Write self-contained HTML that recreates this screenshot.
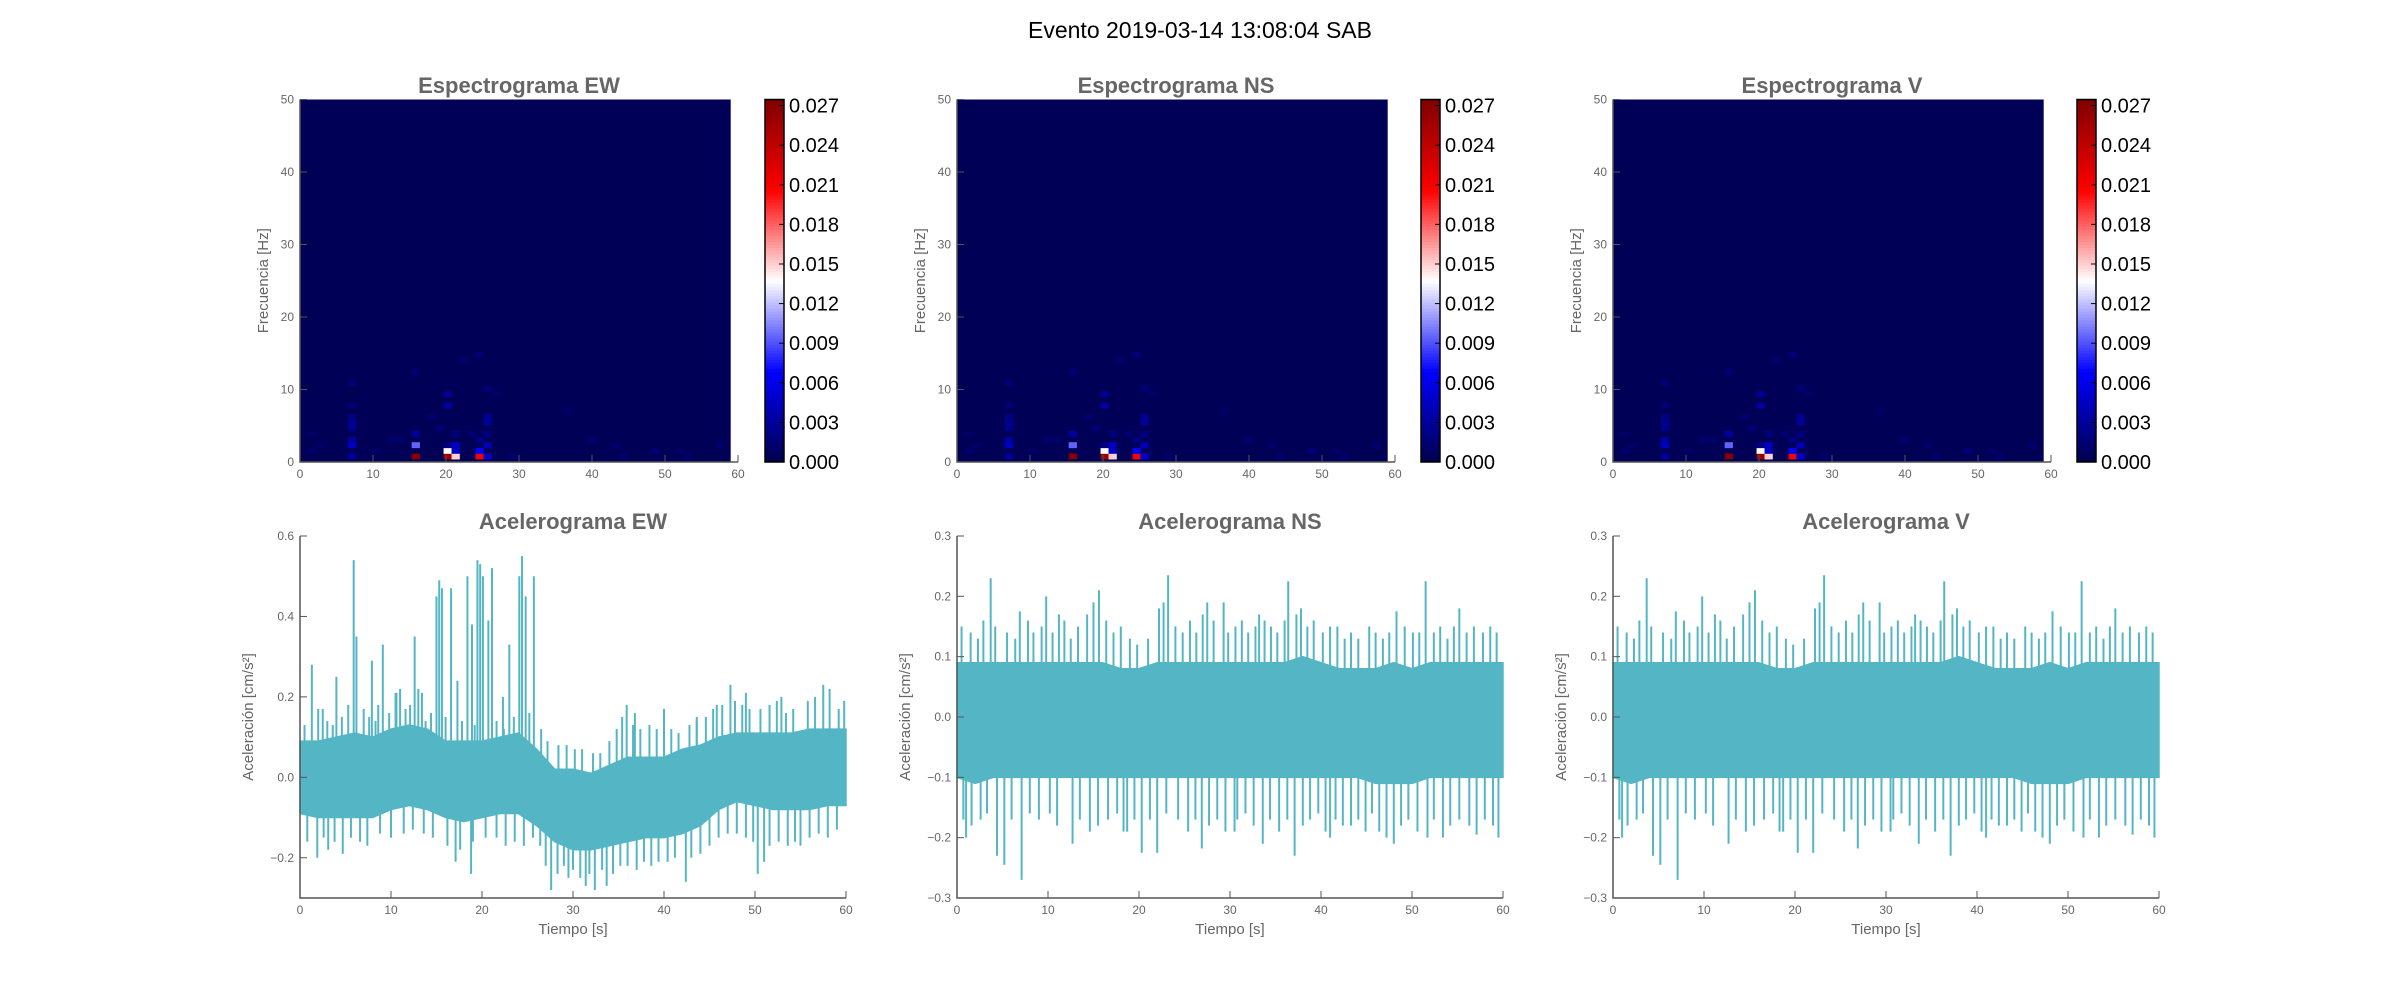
<!DOCTYPE html>
<html><head><meta charset="utf-8"><style>
html,body{margin:0;padding:0;background:#fff;}
svg{display:block;font-family:"Liberation Sans","DejaVu Sans",sans-serif;}
</style></head><body>
<svg id="fig" width="2400" height="1000" viewBox="0 0 2400 1000" xmlns="http://www.w3.org/2000/svg">
<rect width="2400" height="1000" fill="#fff"/>
<text x="1200" y="38" text-anchor="middle" font-size="23" fill="#000">Evento 2019-03-14 13:08:04 SAB</text>
</svg>
<script>
// ---- spectrogram data (shared pattern, bin indices) ----
const specDt = 1.0926;
const specDf = 0.78125;
const specNT = 54;
const specNF = 64;
const specBase = 0.0004;
const specCol = [14,14,14,14, 18,18,18,18,18, 19,19,19,19, 22,22,22,22, 23,23,23,23,23,23, 6,6,6,6,6,6,6,6, 1,1,12,17,21,24,36,40,44,48,52,2,9,11,16,20,26,33,39,47];
const specRow = [1,3,5,16, 1,2,3,10,12, 1,2,3,5, 1,2,4,19, 1,3,7,8,5,13, 1,3,4,6,7,8,10,14, 2,5,4,6,5,12,4,1,2,1,3,3,2,4,8,18,1,9,3,2];
const specVal = [0.027,0.0095,0.003,0.0015, 0.026,0.0137,0.002,0.003,0.0025, 0.0150,0.0045,0.0045,0.002, 0.021,0.0065,0.002,0.0015, 0.005,0.004,0.003,0.0025,0.002,0.0015, 0.003,0.0045,0.003,0.0025,0.0025,0.002,0.0015,0.0015, 0.0012,0.001,0.0012,0.0015,0.0015,0.001,0.001,0.0012,0.0015,0.0012,0.0012,0.001,0.001,0.0012,0.0012,0.0010,0.0012,0.001,0.001,0.001];
const cbTicks = [0.000,0.003,0.006,0.009,0.012,0.015,0.018,0.021,0.024,0.027];
const specVmax = 0.02746;
const specXTicks = [0,10,20,30,40,50,60];
const specYTicks = [0,10,20,30,40,50];

// ---- accelerogram data ----
const accT = [0,2,4,6,8,10,12,14,16,18,20,22,24,26,28,30,32,34,36,38,40,42,44,46,48,50,52,54,56,58,60];
const ewHi = [0.09,0.09,0.10,0.11,0.10,0.12,0.13,0.12,0.09,0.09,0.09,0.10,0.11,0.07,0.02,0.02,0.01,0.03,0.05,0.05,0.05,0.07,0.08,0.10,0.11,0.11,0.11,0.11,0.12,0.12,0.12];
const ewLo = [-0.09,-0.10,-0.10,-0.10,-0.10,-0.08,-0.07,-0.08,-0.10,-0.11,-0.10,-0.09,-0.09,-0.12,-0.16,-0.18,-0.18,-0.17,-0.16,-0.15,-0.15,-0.14,-0.12,-0.08,-0.06,-0.07,-0.08,-0.08,-0.08,-0.07,-0.07];
const ewSpikeT = [1.3,4.0,5.9,6.2,7.9,9.1,11.0,12.6,15.0,15.3,15.6,16.6,17.3,18.4,18.9,19.5,19.8,20.1,20.7,21.1,23.0,24.1,24.4,24.8,25.7,35.9,40.0,47.3,57.5,59.8, 1.9,3.1,4.7,18.8,17.1,27.6,29.5,31.4,32.4,33.7,42.4,50.3,51.0,55.0, 2.5,8.6,10.5,13.4,22.3,36.8,43.6,52.9,45.8,49.0,
 0.5,2.0,3.0,3.6,4.6,5.3,7.0,7.6,8.3,9.8,10.6,11.6,12.1,13.0,13.8,14.4,16.0,17.8,19.2,21.6,22.4,23.5,25.2,26.5,27.2,28.4,29.3,30.2,31.0,32.2,33.0,34.0,34.8,35.4,36.6,37.4,38.4,39.2,40.8,41.6,42.8,43.6,44.6,45.4,46.4,47.8,48.6,49.4,50.6,51.6,52.4,53.4,54.2,55.8,56.6,58.2,59.2,
 0.8,2.6,3.8,5.6,6.6,7.4,8.8,10.0,11.4,12.4,13.6,14.6,16.2,17.6,19.0,20.4,21.6,22.6,23.6,24.6,25.6,26.4,27.0,28.3,29.0,30.0,30.8,31.8,33.2,34.4,35.2,36.0,37.0,37.8,38.6,39.4,40.4,41.2,43.0,44.0,45.0,46.0,47.0,48.0,49.0,49.8,51.6,52.6,53.6,54.4,56.0,57.0,58.0,59.0];
const ewSpikeV = [0.28,0.25,0.54,0.35,0.29,0.33,0.22,0.35,0.45,0.49,0.47,0.47,0.24,0.50,0.38,0.54,0.53,0.50,0.39,0.52,0.33,0.50,0.55,0.45,0.50,0.18,0.17,0.23,0.23,0.19, -0.20,-0.18,-0.19,-0.24,-0.21,-0.28,-0.25,-0.27,-0.28,-0.27,-0.26,-0.24,-0.21,-0.17, 0.17,0.18,0.21,0.21,0.20,0.16,0.15,0.20,0.18,0.21,
 0.13,0.17,0.14,0.13,0.15,0.18,0.17,0.15,0.14,0.16,0.21,0.17,0.18,0.22,0.14,0.16,0.15,0.14,0.13,0.14,0.12,0.15,0.16,0.12,0.09,0.08,0.08,0.07,0.07,0.06,0.06,0.09,0.12,0.15,0.13,0.12,0.13,0.12,0.12,0.11,0.13,0.14,0.15,0.17,0.18,0.19,0.18,0.17,0.17,0.18,0.19,0.16,0.17,0.19,0.20,0.22,0.17,
 -0.16,-0.15,-0.16,-0.15,-0.16,-0.17,-0.14,-0.15,-0.14,-0.13,-0.14,-0.15,-0.17,-0.18,-0.16,-0.15,-0.15,-0.17,-0.16,-0.17,-0.15,-0.17,-0.22,-0.24,-0.22,-0.23,-0.25,-0.24,-0.23,-0.24,-0.22,-0.22,-0.23,-0.21,-0.22,-0.21,-0.21,-0.20,-0.20,-0.19,-0.17,-0.15,-0.14,-0.14,-0.15,-0.16,-0.17,-0.16,-0.17,-0.16,-0.15,-0.14,-0.15,-0.13];
const nsHi = [0.09,0.09,0.09,0.09,0.09,0.09,0.09,0.09,0.09,0.08,0.08,0.09,0.09,0.09,0.09,0.09,0.09,0.09,0.09,0.10,0.09,0.08,0.08,0.08,0.09,0.08,0.09,0.09,0.09,0.09,0.09];
const nsLo = [-0.10,-0.11,-0.10,-0.10,-0.10,-0.10,-0.10,-0.10,-0.10,-0.10,-0.10,-0.10,-0.10,-0.10,-0.10,-0.10,-0.10,-0.10,-0.10,-0.10,-0.10,-0.10,-0.10,-0.11,-0.11,-0.11,-0.10,-0.10,-0.10,-0.10,-0.10];
const nsSpikeT = [3.7,9.8,15.6,23.2,36.4,51.5,55.2,27.5,29.3,48.3,6.9,37.8,15.0,22.7,11.2,33.2, 4.4,5.2,7.1,12.7,20.3,22.0,26.9,37.1,33.6,48.0,41.0,59.5,57.1,53.4,1.0,18.3,30.5,44.9,
 0.5,1.5,2.3,2.9,4.2,5.5,6.4,7.8,8.4,9.3,10.5,11.8,12.5,13.3,14.3,16.4,17.2,18.0,19.0,19.8,21.0,22.2,24.0,24.8,25.6,26.3,27.0,28.2,29.8,30.6,31.3,32.0,32.8,33.8,34.5,35.2,36.0,37.3,38.5,39.2,40.2,41.0,41.8,42.6,43.3,44.1,45.3,46.0,46.8,47.5,49.2,50.1,50.8,52.4,53.1,53.9,54.6,56.0,56.8,57.8,58.6,59.3,
 0.7,1.6,2.6,3.3,6.0,8.0,9.0,10.2,11.0,13.5,14.6,15.5,16.6,17.6,18.7,19.5,21.2,23.0,24.3,25.4,26.2,27.7,28.6,29.5,30.8,31.7,32.6,34.4,35.4,36.3,38.0,38.8,39.7,40.5,41.6,42.4,43.3,44.1,45.6,46.4,47.2,48.8,49.6,50.6,51.7,52.4,54.2,55.2,56.3,58.0,58.9];
const nsSpikeV = [0.23,0.20,0.21,0.235,0.225,0.225,0.18,0.19,0.19,0.175,0.175,0.18,0.19,0.19,0.17,0.17, -0.23,-0.245,-0.27,-0.21,-0.225,-0.225,-0.218,-0.23,-0.21,-0.21,-0.20,-0.20,-0.195,-0.20,-0.20,-0.19,-0.19,-0.19,
 0.15,0.14,0.13,0.16,0.15,0.14,0.13,0.16,0.14,0.15,0.14,0.16,0.13,0.15,0.17,0.16,0.14,0.15,0.13,0.12,0.13,0.18,0.15,0.14,0.16,0.14,0.17,0.16,0.14,0.15,0.16,0.14,0.15,0.16,0.15,0.14,0.16,0.17,0.15,0.16,0.14,0.15,0.15,0.13,0.14,0.13,0.15,0.14,0.13,0.14,0.15,0.14,0.14,0.14,0.15,0.13,0.15,0.14,0.15,0.14,0.15,0.14,
 -0.17,-0.18,-0.17,-0.16,-0.17,-0.16,-0.17,-0.16,-0.18,-0.17,-0.19,-0.18,-0.17,-0.16,-0.19,-0.17,-0.17,-0.16,-0.17,-0.19,-0.17,-0.18,-0.17,-0.19,-0.17,-0.16,-0.18,-0.17,-0.19,-0.17,-0.18,-0.17,-0.16,-0.19,-0.17,-0.18,-0.18,-0.17,-0.16,-0.19,-0.20,-0.18,-0.17,-0.19,-0.20,-0.17,-0.18,-0.17,-0.18,-0.17,-0.18];
const vHi = nsHi.slice();
const vLo = nsLo.slice();
const vSpikeT = nsSpikeT.slice();
const vSpikeV = nsSpikeV.slice();
const ewYTicks = [-0.2,0.0,0.2,0.4,0.6];
const nsYTicks = [-0.3,-0.2,-0.1,0.0,0.1,0.2,0.3];
const accXTicks = [0,10,20,30,40,50,60];

const NS='http://www.w3.org/2000/svg';
const svg=document.getElementById('fig');
function mk(tag,attrs,parent){const e=document.createElementNS(NS,tag);for(const k in attrs)e.setAttribute(k,attrs[k]);(parent||svg).appendChild(e);return e;}
function seismic(v){
  let t=Math.max(0,Math.min(1,v/specVmax));
  const st=[[0,0,0,0.3],[0.25,0,0,1],[0.5,1,1,1],[0.75,1,0,0],[1,0.5,0,0]];
  for(let i=0;i<4;i++){const a=st[i],b=st[i+1];if(t<=b[0]){const u=(t-a[0])/(b[0]-a[0]);
    const c=[1,2,3].map(j=>Math.round(255*(a[j]+(b[j]-a[j])*u)));return 'rgb('+c.join(',')+')';}}
  return 'rgb(128,0,0)';
}
const gray='#666';
function axesFrame(g,L,R,T,B){
  const s=mk('path',{d:`M${L},${T}V${B}H${R}`,stroke:'#555',fill:'none','stroke-width':1.5},g);
  
}
function xTicks(g,ticks,xf,B,lab){
  ticks.forEach(v=>{const x=xf(v);
    const l=mk('line',{x1:x,x2:x,y1:B,y2:B-7,stroke:'#555','stroke-width':1},g);
    
    const t=mk('text',{x:x,y:B+16,'text-anchor':'middle','font-size':12,fill:gray},g);
    
    t.textContent=lab?lab(v):String(v);});
}
function yTicks(g,ticks,yf,L,lab){
  ticks.forEach(v=>{const y=yf(v);
    const l=mk('line',{x1:L,x2:L+7,y1:y,y2:y,stroke:'#555','stroke-width':1},g);
    
    const t=mk('text',{x:L-6,y:y+4,'text-anchor':'end','font-size':12,fill:gray},g);
    
    t.textContent=lab?lab(v):String(v);});
}
function title(g,txt,cx,y,name){
  const t=mk('text',{x:cx,y:y,'text-anchor':'middle','font-size':22,'font-weight':'bold',fill:'#666'},g);
  t.textContent=txt;
}
function ylabel(g,txt,x,cy){
  const t=mk('text',{x:x,y:cy,'text-anchor':'middle','font-size':15,fill:gray,transform:`rotate(-90 ${x} ${cy})`},g);
  t.textContent=txt;
}

const specPanels=[{L:300,R:738,cb:765,comp:'EW'},{L:957,R:1395,cb:1421,comp:'NS'},{L:1613,R:2051,cb:2077,comp:'V'}];
const sT=99.5,sB=462;
specPanels.forEach(p=>{
  const g=mk('g',{});
  
  const xf=t=>p.L+(t/60)*(p.R-p.L);
  const yf=f=>sB-(f/50)*(sB-sT);
  const bg=mk('rect',{x:xf(0),y:sT,width:xf(specNT*specDt)-xf(0),height:sB-sT,fill:seismic(specBase)},g);
  
  for(let i=0;i<specCol.length;i++){
    const t0=specCol[i]*specDt, f0=Math.max(0,(specRow[i]-0.5)*specDf), f1=(specRow[i]+0.5)*specDf;
    const r=mk('rect',{x:xf(t0),y:yf(f1),width:xf(t0+specDt)-xf(t0)+0.3,height:yf(f0)-yf(f1)+0.3,fill:seismic(specVal[i])},g);
    
  }
  axesFrame(g,p.L,p.R,sT,sB);
  xTicks(g,specXTicks,xf,sB);
  yTicks(g,specYTicks,yf,p.L);
  title(g,'Espectrograma '+p.comp,(p.L+p.R)/2,93,'spectrogram-title');
  ylabel(g,'Frecuencia [Hz]',p.L-32,(sT+sB)/2);
  const cg=mk('g',{},g);
  const N=120;
  for(let i=0;i<N;i++){
    const v0=specVmax*i/N,v1=specVmax*(i+1)/N;
    const yy0=sB-(v0/specVmax)*(sB-sT),yy1=sB-(v1/specVmax)*(sB-sT);
    const r=mk('rect',{x:p.cb,y:yy1,width:19,height:yy0-yy1+0.5,fill:seismic((v0+v1)/2)},cg);
    
  }
  const bd=mk('rect',{x:p.cb,y:sT,width:19,height:sB-sT,fill:'none',stroke:'#000','stroke-width':1.5},cg);
  
  cbTicks.forEach(v=>{const y=sB-(v/specVmax)*(sB-sT);
    const l=mk('line',{x1:p.cb+19,x2:p.cb+14,y1:y,y2:y,stroke:'#000','stroke-width':1},cg);
    
    const t=mk('text',{x:p.cb+24,y:y+7,'font-size':20,fill:'#000'},cg);
    
    t.textContent=v.toFixed(3);});
});

const aT=536,aB=898;
const accPanels=[
 {L:300,R:846,comp:'EW',hi:ewHi,lo:ewLo,st:ewSpikeT,sv:ewSpikeV,ymin:-0.3,ymax:0.6,ticks:ewYTicks},
 {L:957,R:1503,comp:'NS',hi:nsHi,lo:nsLo,st:nsSpikeT,sv:nsSpikeV,ymin:-0.3,ymax:0.3,ticks:nsYTicks},
 {L:1613,R:2159,comp:'V',hi:vHi,lo:vLo,st:vSpikeT,sv:vSpikeV,ymin:-0.3,ymax:0.3,ticks:nsYTicks}];
accPanels.forEach(p=>{
  const g=mk('g',{});
  
  const xf=t=>p.L+(t/60)*(p.R-p.L);
  const yf=v=>aB-((v-p.ymin)/(p.ymax-p.ymin))*(aB-aT);
  let pts=accT.map((t,i)=>xf(t)+','+yf(p.hi[i]));
  for(let i=accT.length-1;i>=0;i--)pts.push(xf(accT[i])+','+yf(p.lo[i]));
  const env=mk('polygon',{points:pts.join(' '),fill:'#54b6c4',stroke:'#54b6c4','stroke-width':1.5},g);
  
  for(let i=0;i<p.st.length;i++){
    const x=xf(p.st[i]);
    const l=mk('line',{x1:x,x2:x,y1:yf(0),y2:yf(p.sv[i]),stroke:'#54b6c4','stroke-width':2},g);
    
  }
  axesFrame(g,p.L,p.R,aT,aB);
  xTicks(g,accXTicks,xf,aB);
  yTicks(g,p.ticks,yf,p.L,v=>(v<0?'\u2212':'')+Math.abs(v).toFixed(1));
  title(g,'Acelerograma '+p.comp,(p.L+p.R)/2,529,'accelerogram-title');
  ylabel(g,'Aceleración [cm/s²]',p.L-47,(aT+aB)/2);
  const xl=mk('text',{x:(p.L+p.R)/2,y:934,'text-anchor':'middle','font-size':15,fill:gray},g);
  
  xl.textContent='Tiempo [s]';
});
</script>
</body></html>
